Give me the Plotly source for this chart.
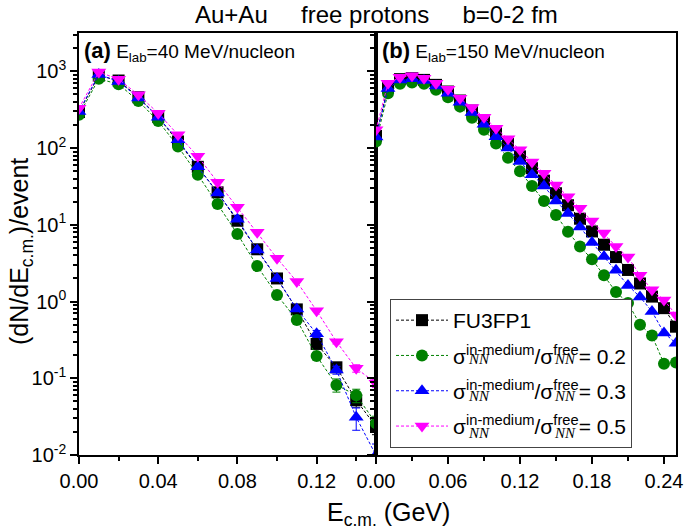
import plotly.graph_objects as go

FONT = "Arial, Liberation Sans, sans-serif"
SERIF = "Liberation Serif, Times New Roman, serif"

# ---- data: panel (a) E_lab = 40 MeV/nucleon ----
E_a = [0.00, 0.01, 0.02, 0.03, 0.04, 0.05, 0.06, 0.07, 0.08, 0.09, 0.10, 0.11, 0.12, 0.13, 0.14, 0.15]
fu_a = [295, 880, 760, 460, 255, 122, 57, 26.5, 11.3, 4.8, 2.0, 0.79, 0.28, 0.139, 0.052, 0.0234]
s02_a = [271, 800, 680, 410, 225, 105, 45, 18.7, 7.6, 2.9, 1.22, 0.575, 0.195, 0.082, 0.060, 0.026]
s03_a = [300, 910, 740, 450, 252, 128, 57, 26, 11.8, 4.7, 2.0, 0.80, 0.38, 0.128, 0.031, 0.0099]
s05_a = [331, 980, 790, 494, 285, 149, 78, 36, 16.9, 8.0, 3.67, 1.82, 0.76, 0.30, 0.135, 0.086]
fu_a_err = [0, 0, 0, 0, 0, 0, 0, 0, 0, 0, 0, 0, 0.03, 0.015, 0.010, 0.005]
s02_a_err = [0, 0, 0, 0, 0, 0, 0, 0, 0, 0, 0, 0, 0.02, 0.016, 0.012, 0.006]
s03_a_err = [0, 0, 0, 0, 0, 0, 0, 0, 0, 0, 0, 0, 0.04, 0.015, 0.010, 0.004]
s05_a_err = [0, 0, 0, 0, 0, 0, 0, 0, 0, 0, 0, 0, 0, 0.02, 0.015, 0.010]

# ---- data: panel (b) E_lab = 150 MeV/nucleon ----
E_b = [0.00, 0.01, 0.02, 0.03, 0.04, 0.05, 0.06, 0.07, 0.08, 0.09, 0.10, 0.11, 0.12,
       0.13, 0.14, 0.15, 0.16, 0.17, 0.18, 0.19, 0.20, 0.21, 0.22, 0.23, 0.24, 0.25]
fu_b = [144, 622, 792, 815, 774, 667, 546, 417, 308, 222, 156, 113, 78, 54.7, 37.7, 25.8,
        18.0, 12.0, 8.2, 5.5, 3.8, 2.58, 1.72, 1.16, 0.82, 0.47]
s02_b = [122, 520, 687, 714, 687, 574, 460, 347, 248, 173, 115, 75, 50, 32, 20.5, 13.4,
         8.1, 5.2, 3.56, 2.2, 1.33, 0.96, 0.50, 0.36, 0.155, 0.16]
s03_b = [140, 600, 770, 800, 760, 645, 520, 395, 290, 205, 141, 100, 67, 45, 32, 20.5,
         14.0, 9.4, 5.9, 3.85, 2.55, 1.62, 1.15, 0.74, 0.39, 0.286]
s05_b = [173, 702, 840, 874, 815, 702, 586, 447, 337, 252, 182, 132, 95, 66, 47, 33,
         23.3, 16.4, 11.2, 7.8, 5.2, 3.8, 2.2, 1.42, 1.05, 0.67]

ratios = ["0.2", "0.3", "0.5"]
names = ["FU3FP1"] + ["σ<sup>in-medium</sup>/σ<sup>free</sup>= " + r for r in ratios]
colors = ["black", "#008000", "#0000FF", "#FF00FF"]
symbols = ["square", "circle", "triangle-up", "triangle-down"]
sizes = [12, 12, 13, 13]
DASH = "3px,2px"

panel_a = [fu_a, s02_a, s03_a, s05_a]
errs_a = [fu_a_err, s02_a_err, s03_a_err, s05_a_err]
panel_b = [fu_b, s02_b, s03_b, s05_b]

fig = go.Figure()
for i in range(4):
    fig.add_trace(go.Scatter(
        x=E_a, y=panel_a[i], mode="lines+markers", name=names[i],
        line=dict(color=colors[i], width=1, dash=DASH),
        marker=dict(symbol=symbols[i], size=sizes[i], color=colors[i]),
        error_y=dict(type="data", array=errs_a[i], color=colors[i], thickness=1, width=4),
        xaxis="x", yaxis="y", showlegend=False))
for i in range(4):
    fig.add_trace(go.Scatter(
        x=E_b, y=panel_b[i], mode="lines+markers", name=names[i],
        legendgroup="g%d" % i,
        line=dict(color=colors[i], width=1, dash=DASH),
        marker=dict(symbol=symbols[i], size=sizes[i], color=colors[i]),
        xaxis="x2", yaxis="y2", showlegend=True))

tickfont = dict(size=20, family=FONT, color="black")
ydec = [0.01, 0.1, 1, 10, 100, 1000]
ytext = ["10<sup>-2</sup>", "10<sup>-1</sup>", "10<sup>0</sup>", "10<sup>1</sup>", "10<sup>2</sup>", "10<sup>3</sup>"]
yminor = [m * d for d in [0.01, 0.1, 1, 10, 100, 1000] for m in range(2, 10) if m * d < 3200]
yrange = [-2, 3.5]

def xax(domain, rng, tv, mdt, anchor, outside=True, **kw):
    t = "outside" if outside else "inside"
    return dict(domain=domain, range=rng, anchor=anchor, tickvals=tv,
                ticktext=["%.2f" % v for v in tv], ticks=t, ticklen=7, tickwidth=1.5,
                tickcolor="black", tickfont=tickfont, showgrid=False, zeroline=False,
                automargin=False,
                minor=dict(ticks=t, ticklen=4, tickwidth=1.5, tickcolor="black",
                           dtick=mdt, tick0=0, showgrid=False), **kw)

def yax(anchor, outside=True, **kw):
    t = "outside" if outside else "inside"
    return dict(type="log", range=yrange, anchor=anchor, tickvals=ydec, ticktext=ytext,
                ticks=t, ticklen=7, tickwidth=1.5, tickcolor="black", tickfont=tickfont,
                showgrid=False, zeroline=False, automargin=False,
                minor=dict(ticks=t, ticklen=4, tickwidth=1.5, tickcolor="black",
                           tickvals=yminor, showgrid=False), **kw)

dA = [0, 0.4975]
dB = [0.4975, 1]
fig.update_layout(
    width=685, height=531,
    margin=dict(l=79, r=9, t=33, b=76),
    paper_bgcolor="white", plot_bgcolor="white",
    font=dict(family=FONT, color="black"),
    xaxis=xax(dA, [0, 0.15], [0, 0.04, 0.08, 0.12], 0.02, "y",
              showline=True, linecolor="black", linewidth=1.5, mirror=True),
    xaxis2=xax(dB, [0, 0.25], [0, 0.06, 0.12, 0.18, 0.24], 0.03, "y2",
               showline=True, linecolor="black", linewidth=1.5, mirror=True),
    xaxis3=xax(dA, [0, 0.15], [0, 0.04, 0.08, 0.12], 0.02, "y", outside=False,
               overlaying="x", side="top", showticklabels=False, showline=False),
    xaxis4=xax(dB, [0, 0.25], [0, 0.06, 0.12, 0.18, 0.24], 0.03, "y2", outside=False,
               overlaying="x2", side="top", showticklabels=False, showline=False),
    yaxis=yax("x", showline=True, linecolor="black", linewidth=1.5, mirror=True),
    yaxis2=yax("x2", showline=True, linecolor="black", linewidth=1.5, mirror=True,
               showticklabels=False),
    yaxis3=yax("x", outside=False, overlaying="y", side="right", showticklabels=False,
               showline=False),
    yaxis4=yax("x2", outside=False, overlaying="y2", side="right", showticklabels=False,
               showline=False),
    legend=dict(x=(390 - 79) / 597, y=(455 - 299) / 422, xanchor="left", yanchor="top",
                bgcolor="white", bordercolor="#444", borderwidth=1,
                font=dict(size=21, family=FONT, color="black"),
                traceorder="grouped", tracegroupgap=5, itemwidth=52),
    showlegend=True,
)

def ann(text, X, Y, size, xanchor="center", yanchor="middle", family=FONT, angle=0):
    fig.add_annotation(text=text, xref="paper", yref="paper",
                       x=(X - 79) / 597, y=(455 - Y) / 422,
                       xanchor=xanchor, yanchor=yanchor, showarrow=False, textangle=angle,
                       font=dict(size=size, family=family, color="black"))

ann("Au+Au\u00a0\u00a0\u00a0\u00a0\u00a0free protons\u00a0\u00a0\u00a0\u00a0\u00a0b=0-2 fm", 376, 14, 24)
ann("<b><span style='font-size:22px'>(a)</span></b> E<sub>lab</sub>=40 MeV/nucleon", 82, 52, 19, xanchor="left")
ann("<b><span style='font-size:22px'>(b)</span></b> E<sub>lab</sub>=150 MeV/nucleon", 380, 52, 19, xanchor="left")
ann("E<sub>c.m.</sub> (GeV)", 388, 514, 25)
ann("(dN/dE<sub>c.m.</sub>)/event", 21, 252, 25, angle=-90)

# italic NN subscripts of the legend labels
for Y in [359, 396, 433]:
    ann("<i>NN</i>", 466, Y, 15, xanchor="left", family=SERIF)
    ann("<i>NN</i>", 552, Y, 15, xanchor="left", family=SERIF)

fig.write_html("out.html", config={"displayModeBar": False},
               post_script="document.body.style.margin='0px';")
